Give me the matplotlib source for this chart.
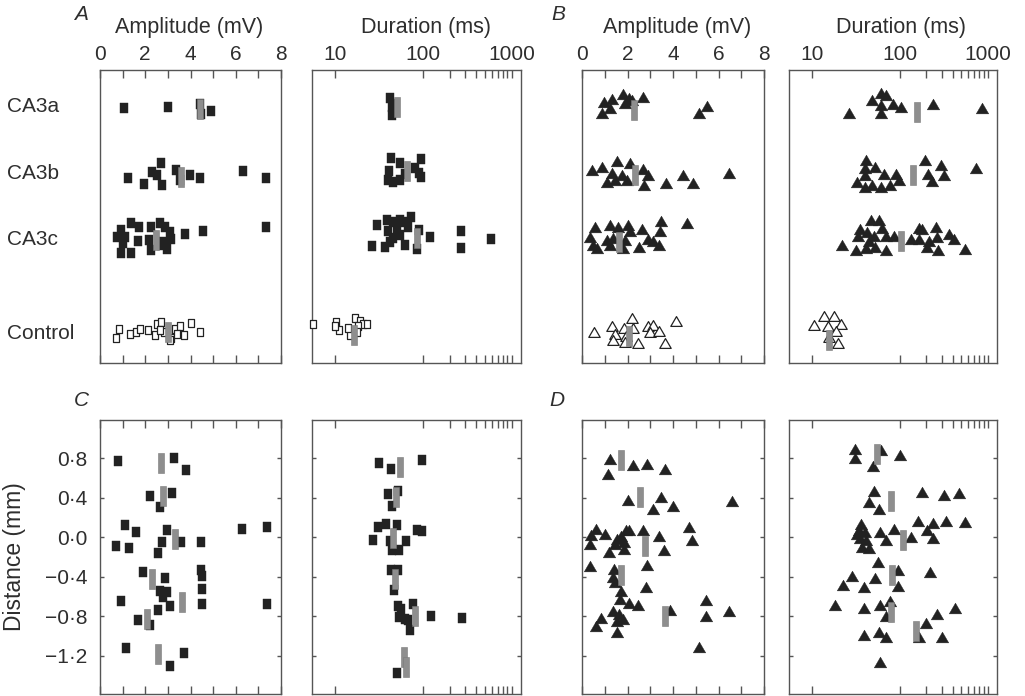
import matplotlib
matplotlib.use('Agg')
import matplotlib.pyplot as plt
from matplotlib.path import Path
from matplotlib.transforms import blended_transform_factory

plt.rcParams['font.family'] = ['Liberation Sans', 'DejaVu Sans']

# categories for the upper panels (row position on the y axis)
categories = ['CA3a', 'CA3b', 'CA3c', 'Control']
cat_rows = [3.0, 2.0, 1.0, -0.4]

# ---------------- panel A : amplitude (mV) ----------------
a_amp_x = [1.05, 3.0, 4.91, 4.40, 4.45,
           1.24, 1.93, 2.32, 2.54, 2.71, 2.76, 3.37, 3.96, 4.44, 6.34, 7.35, 3.55,
           1.35, 1.73, 0.92, 0.73, 1.10, 1.03, 1.66, 0.95, 1.35, 2.27, 2.64, 2.86,
           3.08, 2.17, 2.24, 2.78, 2.97, 3.12, 2.68, 3.74, 4.57, 7.35]
a_amp_y = [2.98, 3.0, 2.94, 3.05, 2.90,
           1.93, 1.84, 2.02, 1.97, 2.15, 1.82, 2.05, 1.98, 1.93, 2.04, 1.93, 1.90,
           1.25, 1.20, 1.15, 1.05, 1.05, 0.95, 0.98, 0.80, 0.80, 1.20, 1.25, 1.20,
           1.125, 1.0, 0.85, 0.97, 0.87, 1.02, 0.93, 1.09, 1.14, 1.19]
a_amp_ctrl_x = [0.70, 0.84, 1.32, 1.61, 1.79, 2.12, 2.54, 2.45, 2.71, 2.83,
                3.15, 3.30, 3.52, 3.71, 4.0, 4.44, 3.42, 3.08, 2.64]
a_amp_ctrl_y = [-0.48, -0.34, -0.42, -0.38, -0.34, -0.36, -0.26, -0.43, -0.23, -0.38,
                -0.48, -0.34, -0.30, -0.43, -0.25, -0.38, -0.42, -0.50, -0.36]
a_amp_med_x = [4.44, 3.59, 2.46, 3.0]
a_amp_med_y = [2.97, 1.95, 1.0, -0.38]

# ---------------- panel A : duration (ms) ----------------
a_dur_x = [42, 44, 44, 46,
           43, 95, 55, 41.4, 81, 95, 40.3, 46, 55, 62.4, 88.5,
           30.3, 39.3, 46, 55, 62.4, 72.5, 51, 68, 90, 46, 55, 120, 268, 268, 593,
           26, 37, 42, 62.4, 84, 40]
a_dur_y = [3.13, 3.0, 2.88, 3.04,
           2.24, 2.22, 2.15, 2.04, 2.08, 1.95, 1.90, 1.87, 1.90, 1.99, 2.0,
           1.23, 1.30, 1.27, 1.30, 1.27, 1.35, 1.18, 1.20, 1.15, 1.03, 1.08, 1.04, 1.13, 0.88, 1.01,
           0.91, 0.90, 0.97, 0.93, 0.87, 1.13]
a_dur_ctrl_x = [5.6, 10.4, 11.2, 10, 14.8, 16.9, 19.2, 21, 22.9, 18.4, 14.2, 17.7]
a_dur_ctrl_y = [-0.27, -0.24, -0.35, -0.30, -0.43, -0.18, -0.22, -0.26, -0.27, -0.30, -0.33, -0.38]
a_dur_med_x = [51, 66.3, 84.7, 16.4]
a_dur_med_y = [3.0, 2.04, 1.03, -0.43]

# ---------------- panel B : amplitude (mV) ----------------
b_amp_x = [0.87, 0.97, 1.30, 1.23, 1.82, 2.08, 1.89, 2.70, 2.2, 5.16, 5.48,
           0.43, 0.89, 1.52, 1.33, 1.74, 1.97, 1.11, 1.45, 2.11, 2.70, 2.92, 2.72,
           3.69, 4.45, 4.89, 6.47,
           0.57, 0.35, 0.50, 0.64, 1.23, 1.08, 1.38, 1.23, 1.60, 2.04, 2.11, 1.89,
           1.82, 2.62, 2.52, 2.92, 3.14, 3.40, 3.47, 3.43, 4.60]
b_amp_y = [2.91, 3.08, 3.12, 2.99, 3.19, 3.14, 3.06, 3.15, 3.1, 2.91, 3.01,
           2.05, 2.10, 2.19, 2.0, 1.98, 1.90, 1.87, 1.90, 2.15, 2.06, 1.98, 1.83,
           1.85, 1.98, 1.85, 2.01,
           1.20, 1.05, 0.925, 0.88, 1.23, 1.0, 1.03, 0.925, 1.20, 1.23, 1.13, 1.0,
           0.88, 1.17, 0.90, 1.01, 0.98, 0.92, 1.29, 1.14, 1.25]
b_amp_ctrl_x = [0.54, 1.30, 1.45, 1.38, 1.85, 1.95, 1.88, 2.18, 2.26, 2.48,
                2.92, 3.14, 3.0, 3.4, 3.65, 4.13]
b_amp_ctrl_y = [-0.39, -0.29, -0.42, -0.50, -0.33, -0.45, -0.53, -0.18, -0.33, -0.55,
                -0.29, -0.28, -0.39, -0.37, -0.55, -0.22]
b_amp_med_x = [2.30, 2.33, 1.64, 2.08]
b_amp_med_y = [2.95, 1.98, 0.975, -0.44]

# ---------------- panel B : duration (ms) ----------------
b_dur_x = [26.5, 48.9, 60.8, 69.3, 60.8, 60.8, 84, 102.6, 239, 871,
           41, 40, 40.3, 33, 53, 66.4, 90, 98, 40.3, 48, 60.8, 77, 194, 292, 319, 212, 235, 743,
           22.3, 31.6, 35.1, 33.9, 46.8, 58.2, 43, 51, 63.5, 69.3, 41, 53, 69.3, 86, 44.8,
           133, 166, 181, 166, 215, 256, 268, 206, 275, 363, 414, 548]
b_dur_y = [2.91, 3.11, 3.21, 3.18, 3.03, 2.91, 3.05, 3.0, 3.05, 2.98,
           2.20, 2.08, 1.98, 1.87, 2.10, 1.99, 1.99, 1.90, 1.80, 1.83, 1.79, 1.83, 2.20, 2.13, 1.98, 1.99, 1.88, 2.08,
           0.925, 0.85, 1.17, 1.06, 1.30, 1.30, 1.12, 1.06, 1.18, 1.06, 0.88, 0.90, 0.85, 1.06, 0.98,
           1.01, 1.18, 1.17, 1.02, 0.99, 1.19, 1.04, 0.90, 0.85, 1.09, 1.02, 0.87]
b_dur_ctrl_x = [10.6, 13.8, 17.9, 21.4, 15.1, 18.7, 15.7, 19.6]
b_dur_ctrl_y = [-0.28, -0.15, -0.14, -0.27, -0.29, -0.37, -0.46, -0.55]
b_dur_med_x = [156, 141.6, 102.6, 15.7]
b_dur_med_y = [2.92, 1.97, 0.98, -0.50]

# ---------------- panel C : distance (mm) ----------------
c_amp_x = [0.78, 3.26, 3.82, 2.20, 3.17, 2.67, 1.10, 1.59, 2.94, 0.70, 1.28, 2.72, 3.60,
           4.45, 2.57, 6.29, 7.37, 1.91, 2.89, 4.45, 4.52, 4.52, 2.63, 2.98, 2.79, 0.91,
           3.08, 2.57, 4.52, 7.37, 1.67, 2.20, 1.15, 3.71, 3.11]
c_amp_d = [0.766, 0.80, 0.68, 0.42, 0.45, 0.31, 0.125, 0.057, 0.074, -0.09, -0.11, -0.044, -0.044,
           -0.05, -0.16, 0.078, 0.108, -0.354, -0.415, -0.33, -0.39, -0.52, -0.54, -0.55, -0.60, -0.64,
           -0.70, -0.74, -0.675, -0.67, -0.84, -0.89, -1.12, -1.165, -1.30]
c_amp_med_x = [2.69, 2.79, 3.30, 2.30, 3.63, 2.08, 2.57]
c_amp_med_d = [0.75, 0.415, -0.017, -0.42, -0.65, -0.83, -1.18]

c_dur_x = [31.5, 43, 97.6, 40.3, 51.3, 44.7, 30.5, 37.8, 50, 26.7, 42, 63.7, 84, 97.6,
           44.7, 53.6, 43, 51.3, 47, 51.3, 56, 75.9, 53.6, 62, 70.7, 66.6, 124, 272, 50]
c_dur_d = [0.746, 0.69, 0.776, 0.44, 0.466, 0.314, 0.10, 0.138, 0.128, -0.024, -0.04, -0.034, 0.07, 0.06,
           -0.125, -0.13, -0.33, -0.33, -0.53, -0.70, -0.73, -0.67, -0.81, -0.83, -0.935, -0.834, -0.793, -0.82, -1.37]
c_dur_med_x = [55, 49, 45, 47.8, 80.5, 61, 63]
c_dur_med_d = [0.71, 0.405, -0.013, -0.42, -0.80, -1.21, -1.31]

# ---------------- panel D : distance (mm) ----------------
d_amp_x = [1.22, 1.16, 2.25, 2.85, 3.66, 2.04, 3.47, 3.13, 4.01, 6.6, 0.60, 0.38, 0.36, 1.0,
           1.19, 1.44, 1.56, 1.71, 1.93, 2.07, 1.85, 1.85, 2.66, 3.40, 3.59, 4.69, 4.82, 0.36,
           2.84, 1.42, 1.38, 1.44, 1.71, 1.66, 2.81, 2.07, 2.47, 1.37, 1.63, 1.56, 1.82, 0.82,
           0.60, 1.53, 3.86, 5.45, 5.45, 6.48, 5.16]
d_amp_d = [0.79, 0.64, 0.726, 0.74, 0.69, 0.378, 0.41, 0.287, 0.32, 0.37, 0.084, 0.024, -0.068, 0.034,
           -0.15, -0.068, -0.017, 0.01, 0.068, 0.068, -0.044, -0.118, 0.074, 0.017, -0.128, 0.10, -0.024, -0.287,
           -0.277, -0.32, -0.405, -0.456, -0.54, -0.625, -0.506, -0.668, -0.68, -0.75, -0.776, -0.844, -0.827, -0.817,
           -0.90, -0.96, -0.733, -0.635, -0.80, -0.75, -1.11]
d_amp_med_x = [1.71, 2.54, 2.76, 1.71, 3.64]
d_amp_med_d = [0.78, 0.41, -0.084, -0.38, -0.793]

d_dur_x = [31.3, 31.2, 60.6, 49.5, 100, 50.8, 44.6, 57.5, 180, 319, 478, 162, 241, 333, 555,
           206, 241, 136, 86, 59, 69.2, 36.4, 34.2, 39.8, 35.5, 41.5, 37.4, 44.6, 32.5, 56.5,
           95.7, 221, 28.5, 22.4, 52.6, 39, 95.7, 18.3, 39, 59, 78.2, 70.3, 426, 263, 198.5,
           166, 300, 39, 58, 69.2, 60]
d_dur_d = [0.895, 0.80, 0.885, 0.72, 0.834, 0.47, 0.36, 0.287, 0.456, 0.43, 0.446, 0.16, 0.145, 0.16, 0.152,
           0.068, -0.01, 0.0, 0.084, 0.05, -0.027, 0.135, 0.068, 0.05, -0.01, -0.024, -0.1, -0.11, 0.034, -0.253,
           -0.327, -0.354, -0.395, -0.483, -0.415, -0.506, -0.49, -0.68, -0.716, -0.685, -0.648, -0.80, -0.72, -0.776, -0.868,
           -1.01, -1.005, -0.986, -0.962, -1.01, -1.26]
d_dur_med_x = [55, 78.8, 109, 81.7, 80.3, 152.5]
d_dur_med_d = [0.844, 0.37, -0.024, -0.38, -0.753, -0.945]

dist_ticks = [0.8, 0.4, 0.0, -0.4, -0.8, -1.2]
dist_labels = ['0·8', '0·4', '0·0', '−0·4', '−0·8', '−1·2']


# marker shapes (closed polygons so the open markers get every edge)
def poly(pts):
    return Path(pts + [pts[0]], closed=True)


RECT = poly([(-0.39, -0.5), (0.39, -0.5), (0.39, 0.5), (-0.39, 0.5)])
TRI = poly([(-0.5, -0.43), (0.5, -0.43), (0.0, 0.43)])
BAR = poly([(-0.15, -0.5), (0.15, -0.5), (0.15, 0.5), (-0.15, 0.5)])
INK = '#222222'
GREY = '#8e8e8e'
SPINE = '#555555'
TXT = '#2e2e2e'

W, H = 1025, 696
fig = plt.figure(figsize=(W / 100, H / 100), dpi=100)


def box(x0, x1, y0, y1):
    return [x0 / W, 1 - y1 / H, (x1 - x0) / W, (y1 - y0) / H]


def style_axes(ax, kind, top_row, ylab=False):
    for s in ax.spines.values():
        s.set_color(SPINE)
        s.set_linewidth(1.0)
    if kind == 'amp':
        ax.set_xlim(0, 8)
        ax.set_xticks([0, 2, 4, 6, 8], ['0', '2', '4', '6', '8'])
        ax.set_xticks([1, 3, 5, 7], minor=True)
    else:
        ax.set_xscale('log')
        ax.set_xlim(5.5, 1280)
        ax.set_xticks([10, 100, 1000], ['10', '100', '1000'])
        ax.set_xticks([200, 300, 400, 500, 600, 700, 800, 900], minor=True)
        ax.xaxis.set_minor_formatter(plt.NullFormatter())
    ax.tick_params(axis='x', which='both', direction='in', top=True, bottom=True,
                   length=6, width=1, color=SPINE, labeltop=top_row, labelbottom=False,
                   labelsize=15, labelcolor=TXT, pad=4)
    if top_row:
        ax.set_ylim(-0.85, 3.556)
        ax.set_yticks([])
    else:
        ax.set_ylim(-1.584, 1.184)
        ax.set_yticks(dist_ticks, dist_labels)
        ax.tick_params(axis='y', direction='in', left=True, right=True, length=3,
                       width=1, color=SPINE, labelleft=ylab, labelsize=15,
                       labelcolor=TXT, pad=9)


def draw(ax, x, y, shape, hollow=False, ms=6.5):
    if hollow:
        ax.plot(x, y, ls='none', marker=shape, ms=ms, mfc='white', mec=INK,
                mew=0.9, clip_on=False, zorder=3)
    else:
        ax.plot(x, y, ls='none', marker=shape, ms=ms, mfc=INK, mec=INK,
                mew=0.3, clip_on=False, zorder=3)


def medians(ax, x, y):
    ax.plot(x, y, ls='none', marker=BAR, ms=14, mfc=GREY, mec='#7a7a7a',
            mew=0.4, clip_on=False, zorder=4)


SQ_MS, SQ_OPEN_MS = 7.2, 6.4
TRI_MS, TRI_OPEN_MS = 9.0, 8.2

# ---- top row ----
ax_a1 = fig.add_axes(box(100, 281, 70, 363))
ax_a2 = fig.add_axes(box(312, 521, 70, 363))
ax_b1 = fig.add_axes(box(582, 764, 70, 363))
ax_b2 = fig.add_axes(box(789, 997, 70, 363))
for ax, k in [(ax_a1, 'amp'), (ax_a2, 'dur'), (ax_b1, 'amp'), (ax_b2, 'dur')]:
    style_axes(ax, k, True)

draw(ax_a1, a_amp_x, a_amp_y, RECT, ms=SQ_MS)
draw(ax_a1, a_amp_ctrl_x, a_amp_ctrl_y, RECT, hollow=True, ms=SQ_OPEN_MS)
medians(ax_a1, a_amp_med_x, a_amp_med_y)
draw(ax_a2, a_dur_x, a_dur_y, RECT, ms=SQ_MS)
draw(ax_a2, a_dur_ctrl_x, a_dur_ctrl_y, RECT, hollow=True, ms=SQ_OPEN_MS)
medians(ax_a2, a_dur_med_x, a_dur_med_y)

draw(ax_b1, b_amp_x, b_amp_y, TRI, ms=TRI_MS)
draw(ax_b1, b_amp_ctrl_x, b_amp_ctrl_y, TRI, hollow=True, ms=TRI_OPEN_MS)
medians(ax_b1, b_amp_med_x, b_amp_med_y)
draw(ax_b2, b_dur_x, b_dur_y, TRI, ms=TRI_MS)
draw(ax_b2, b_dur_ctrl_x, b_dur_ctrl_y, TRI, hollow=True, ms=TRI_OPEN_MS)
medians(ax_b2, b_dur_med_x, b_dur_med_y)

# category names on the left of panel A
tr = blended_transform_factory(fig.transFigure, ax_a1.transData)
for name, r in zip(categories, cat_rows):
    ax_a1.text(7 / W, r, name, transform=tr, ha='left', va='center',
               fontsize=15, color=TXT)

# ---- bottom row ----
ax_c1 = fig.add_axes(box(100, 281, 420, 694))
ax_c2 = fig.add_axes(box(312, 521, 420, 694))
ax_d1 = fig.add_axes(box(582, 764, 420, 694))
ax_d2 = fig.add_axes(box(789, 997, 420, 694))
style_axes(ax_c1, 'amp', False, ylab=True)
style_axes(ax_c2, 'dur', False)
style_axes(ax_d1, 'amp', False)
style_axes(ax_d2, 'dur', False)

draw(ax_c1, c_amp_x, c_amp_d, RECT, ms=SQ_MS)
medians(ax_c1, c_amp_med_x, c_amp_med_d)
draw(ax_c2, c_dur_x, c_dur_d, RECT, ms=SQ_MS)
medians(ax_c2, c_dur_med_x, c_dur_med_d)
draw(ax_d1, d_amp_x, d_amp_d, TRI, ms=TRI_MS)
medians(ax_d1, d_amp_med_x, d_amp_med_d)
draw(ax_d2, d_dur_x, d_dur_d, TRI, ms=TRI_MS)
medians(ax_d2, d_dur_med_x, d_dur_med_d)

# ---- texts ----
for s, x, y in [('A', 81, 15), ('B', 558, 15), ('C', 81, 400), ('D', 557, 400)]:
    fig.text(x / W, 1 - y / H, s, fontsize=15, style='italic', color=TXT,
             ha='center', va='center')
for s, x in [('Amplitude (mV)', 189), ('Duration (ms)', 426),
             ('Amplitude (mV)', 677), ('Duration (ms)', 901)]:
    fig.text(x / W, 1 - 28 / H, s, fontsize=15.5, color=TXT, ha='center', va='center')
fig.text(15 / W, 1 - 557 / H, 'Distance (mm)', rotation=90, fontsize=16.5,
         color=TXT, ha='center', va='center')

fig.savefig('out.png', dpi=100)
